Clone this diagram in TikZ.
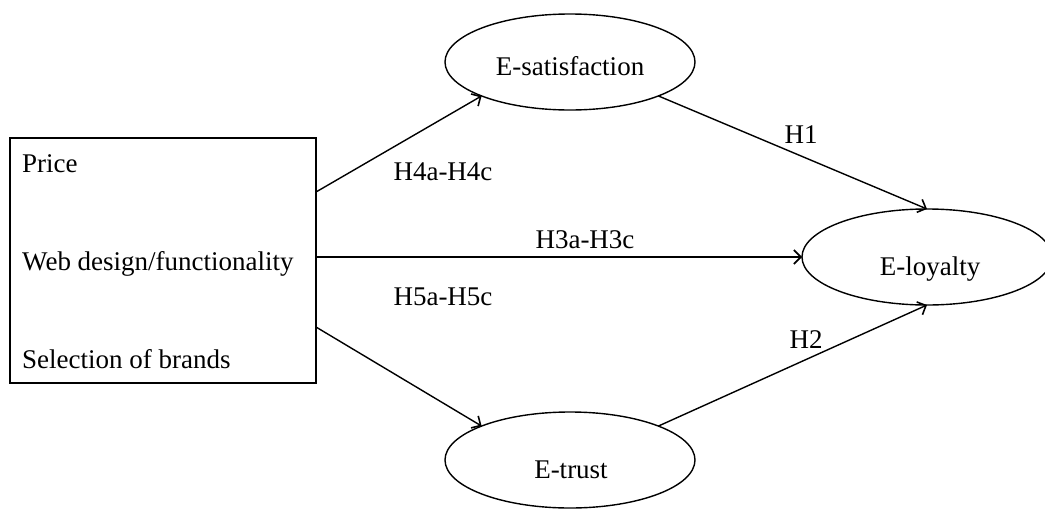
\documentclass[tikz,border=0pt]{standalone}
\usepackage{fontspec}
\setmainfont{Liberation Serif}
\usetikzlibrary{shapes.geometric,arrows.meta,calc}
\begin{document}
\begin{tikzpicture}[x=1pt,y=-1pt,
  every node/.style={font=\fontsize{27}{32}\selectfont},
  lat/.style={draw=black,line width=1.4pt,ellipse,minimum width=250pt,minimum height=96pt,inner sep=0pt,outer sep=0pt},
  inbox/.style={draw=black,line width=2pt,rectangle,minimum width=306pt,minimum height=245pt,inner sep=0pt,outer sep=0pt},
  txt/.style={inner sep=0pt,anchor=base},
  lbl/.style={inner sep=0pt,anchor=base},
  conn/.style={line width=1.4pt,-{Straight Barb[length=7pt,width=14pt,line width=1.6pt]}}
]
\useasboundingbox (0,0) rectangle (1045,509);
% nodes
\node[inbox] (box) at (163,260.5) {};
\node[lat] (sat) at (570,62) {};
\node[lat] (loy) at (927,257) {};
\node[lat] (tru) at (570,460) {};
% texts
\node[txt,anchor=base west] (tp) at (22,172) {Price};
\node[txt,anchor=base west] (tw) at (22,270) {Web design/functionality};
\node[txt,anchor=base west] (tsb) at (22,368) {Selection of brands};
\node[txt] (tsat) at (570,75) {E-satisfaction};
\node[txt] (tloy) at (930,275) {E-loyalty};
\node[txt] (ttru) at (571,478) {E-trust};
% connector ends
\coordinate (h4s) at ([yshift=68.5pt]box.east);
\coordinate (h3s) at (box.east |- loy.west);
\coordinate (h5s) at ([yshift=-66.5pt]box.east);
% connectors
\draw[conn] (h4s) -- (sat.south west);
\draw[conn] (h3s) -- (loy.west);
\draw[conn] (h5s) -- (tru.north west);
\draw[conn] (sat.south east) -- (loy.north);
\draw[conn] (tru.north east) -- (loy.south);
% labels
\node[lbl] (l4) at (443,180) {H4a-H4c};
\node[lbl] (l3) at (585,248) {H3a-H3c};
\node[lbl] (l5) at (443,305) {H5a-H5c};
\node[lbl] (l1) at (801,143) {H1};
\node[lbl] (l2) at (806,348) {H2};
\end{tikzpicture}
\end{document}
